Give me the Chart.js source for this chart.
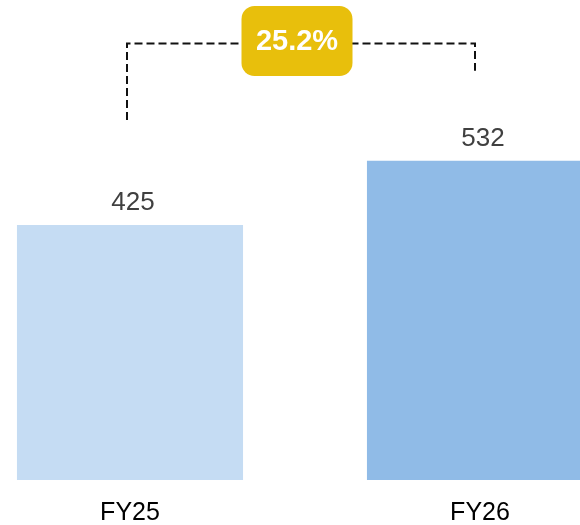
<!DOCTYPE html>
<html>
<head>
<meta charset="utf-8">
<script src="https://cdn.jsdelivr.net/npm/chart.js@4"></script>
<style>
  html, body { margin: 0; padding: 0; background: #fff; overflow: hidden; }
  body { width: 580px; height: 525px; position: relative; }
  #wrap { position: absolute; left: -45px; top: 0; width: 700px; height: 525px; }
</style>
</head>
<body>
<div id="wrap"><canvas id="growthChart"></canvas></div>
<script>
const categories = ["FY25", "FY26"];
const revenue = [425, 532];
const growthLabel = "25.2%";
const barColors = ["#c5dcf3", "#90bbe7"];

// value labels above bars + dashed growth bracket with badge
const annotate = {
  id: "annotate",
  afterDatasetsDraw(chart) {
    const { ctx } = chart;
    const bars = chart.getDatasetMeta(0).data;
    ctx.save();
    ctx.font = "26px Arial, 'Liberation Sans', sans-serif";
    ctx.fillStyle = "#404040";
    ctx.textAlign = "center";
    ctx.textBaseline = "alphabetic";
    bars.forEach((b, i) => ctx.fillText(revenue[i], b.x + 3, b.y - 15));

    const x1 = bars[0].x - 3, x2 = bars[1].x - 5;
    const top = 43.5;
    ctx.strokeStyle = "#111";
    ctx.lineWidth = 2;
    ctx.setLineDash([8, 4]);
    ctx.beginPath();
    ctx.moveTo(x1, bars[0].y - 105);
    ctx.lineTo(x1, top);
    ctx.lineTo(x2, top);
    ctx.lineTo(x2, bars[1].y - 90);
    ctx.stroke();
    ctx.setLineDash([]);

    const cx = (x1 + x2) / 2 - 4;
    const w = 111, h = 70;
    ctx.fillStyle = "#e8bf0c";
    ctx.beginPath();
    ctx.roundRect(cx - w / 2, 6, w, h, 13);
    ctx.fill();
    ctx.fillStyle = "#fff";
    ctx.font = "bold 29px Arial, 'Liberation Sans', sans-serif";
    ctx.textBaseline = "middle";
    ctx.fillText(growthLabel, cx, 42);
    ctx.restore();
  }
};

new Chart(document.getElementById("growthChart"), {
  type: "bar",
  data: {
    labels: categories,
    datasets: [{ data: revenue, backgroundColor: barColors, barPercentage: 0.646, categoryPercentage: 1 }]
  },
  options: {
    responsive: true,
    maintainAspectRatio: false,
    animation: false,
    layout: { padding: 0 },
    plugins: { legend: { display: false }, tooltip: { enabled: false } },
    scales: {
      x: {
        grid: { display: false },
        border: { display: false },
        afterFit: (scale) => { scale.height = 45; },
        ticks: { color: "#000", padding: 10, font: { size: 25, family: "Arial, 'Liberation Sans', sans-serif" } }
      },
      y: { display: false, min: 0, max: 800 }
    }
  },
  plugins: [annotate]
});
</script>
</body>
</html>
